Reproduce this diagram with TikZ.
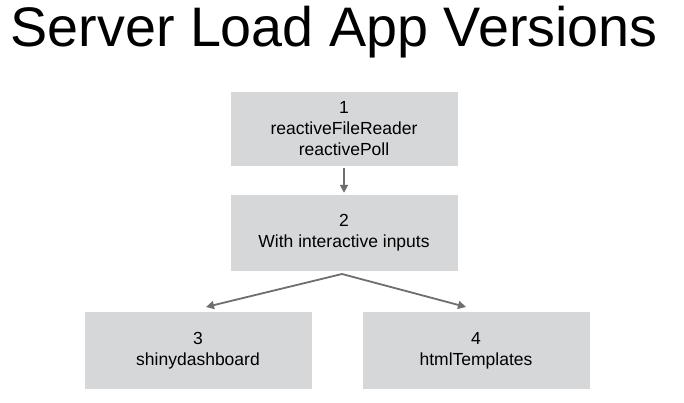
\documentclass[tikz,border=0pt]{standalone}
\usepackage{fontspec}
\setmainfont{Liberation Sans}
\usetikzlibrary{positioning, arrows.meta}
\definecolor{boxgray}{HTML}{D5D7D9}
\definecolor{arrowgray}{HTML}{6E6E6E}
\tikzset{
  versionbox/.style={fill=boxgray, minimum width=227pt, inner sep=0pt,
        align=center, font=\fontsize{17.5}{21}\selectfont},
  flowarrow/.style={draw=arrowgray, line width=1.8pt,
        -{Triangle[length=8pt, width=8pt]}}
}

\begin{document}
\begin{tikzpicture}[x=1pt, y=1pt]
  \useasboundingbox (0,0) rectangle (684,-403);
  \node[anchor=base west, font=\fontsize{55.7}{60}\selectfont]
    (title) at (7,-47) {Server Load App Versions};

  \node[versionbox, minimum height=74pt] (poll) at (344,-129)
    {1\\reactiveFileReader\\reactivePoll};
  \node[versionbox, minimum height=76pt] (inputs) at (344,-233)
    {2\\With interactive inputs};
  \node[versionbox, minimum height=77pt] (dashboard) at (198,-350.5)
    {3\\shinydashboard};
  \node[versionbox, minimum height=77pt] (templates) at (476,-350.5)
    {4\\htmlTemplates};

  \coordinate (split) at (342,-274);
  \coordinate (tipdash) at (206,-307);
  \coordinate (tiptemp) at (466,-307);

  \draw[flowarrow, shorten <=2pt, shorten >=2pt] (poll) -- (inputs);
  \draw[flowarrow] (split) -- (tipdash);
  \draw[flowarrow] (split) -- (tiptemp);
\end{tikzpicture}
\end{document}
